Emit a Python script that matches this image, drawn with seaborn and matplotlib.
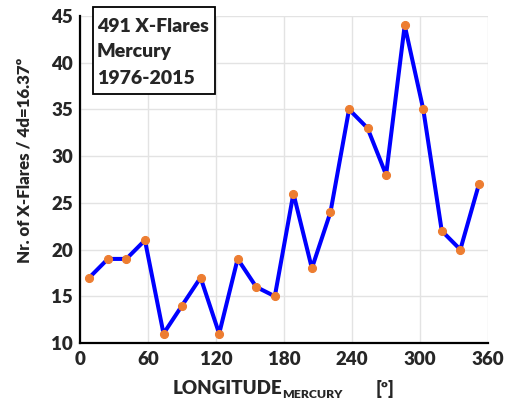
import matplotlib
matplotlib.use("Agg")
import matplotlib.pyplot as plt
import seaborn as sns
import pandas as pd
from matplotlib.patches import Rectangle

# Data
longitudes = [8.2, 24.6, 40.9, 57.3, 73.7, 90.0, 106.4, 122.8, 139.1, 155.5, 171.9,
              188.3, 204.6, 221.0, 237.4, 253.7, 270.1, 286.5, 302.9, 319.2, 335.6, 352.0]
counts = [17, 19, 19, 21, 11, 14, 17, 11, 19, 16, 15,
          26, 18, 24, 35, 33, 28, 44, 35, 22, 20, 27]
x_ticks = [0, 60, 120, 180, 240, 300, 360]
y_ticks = [10, 15, 20, 25, 30, 35, 40, 45]
box_lines = ["491 X-Flares", "Mercury", "1976-2015"]

df = pd.DataFrame({"lon": longitudes, "n": counts})

sns.set_style("whitegrid")
plt.rcParams['font.family'] = ['Lato', 'DejaVu Sans']
W = 'heavy'
plt.rcParams['font.weight'] = W

fig = plt.figure(figsize=(5.11, 4.01), dpi=100)
ax = fig.add_axes([80/511, 1-343/401, 408/511, 327/401])

sns.lineplot(data=df, x="lon", y="n", ax=ax, color="#0000FF", linewidth=2.9,
             marker="o", markersize=5.8, markerfacecolor="#ED7D31",
             markeredgecolor="#ED7D31", zorder=3)

ax.set_xlim(0, 360)
ax.set_ylim(10, 45)
ax.set_xticks(x_ticks)
ax.set_yticks(y_ticks)
ax.set_xticklabels([str(t) for t in x_ticks], fontsize=13.5, fontweight=W)
ax.set_yticklabels([str(t) for t in y_ticks], fontsize=13.5, fontweight=W)
ax.grid(True, color="#E3E3E3", linewidth=1.0)
for s in ["top", "right"]:
    ax.spines[s].set_visible(False)
for s in ["left", "bottom"]:
    ax.spines[s].set_color("black")
    ax.spines[s].set_linewidth(1.6)
ax.tick_params(axis='x', direction='in', length=5, width=1.6, color='black', pad=6)
ax.tick_params(axis='y', direction='in', length=4, width=1.6, color='black', pad=5)
ax.set_xlabel("")
ax.set_ylabel("")

fig.text(25/511, 1-160/401, "Nr. of X-Flares / 4d=16.37º", fontsize=12.2, fontweight=W,
         rotation=90, va='center', ha='center')

# X label pieces
fig.text(282/511, 1-389/401, "LONGITUDE", fontsize=13.5, fontweight=W, va='center', ha='right')
fig.text(282/511, 1-395/401, "MERCURY", fontsize=8.8, fontweight=W, va='center', ha='left')
fig.text(376/511, 1-389/401, "[º]", fontsize=13, fontweight=W, va='center', ha='left')

# Box
fig.patches.append(Rectangle((93/511, 1-94/401), 122/511, 87/401, transform=fig.transFigure,
                             facecolor='white', edgecolor='black', linewidth=1.3, zorder=5))
for txt, yc in zip(box_lines, [26, 52, 79]):
    fig.text(97/511, 1-yc/401, txt, fontsize=14, fontweight=W, va='center', ha='left', zorder=6)

fig.savefig("out.png", dpi=100)
